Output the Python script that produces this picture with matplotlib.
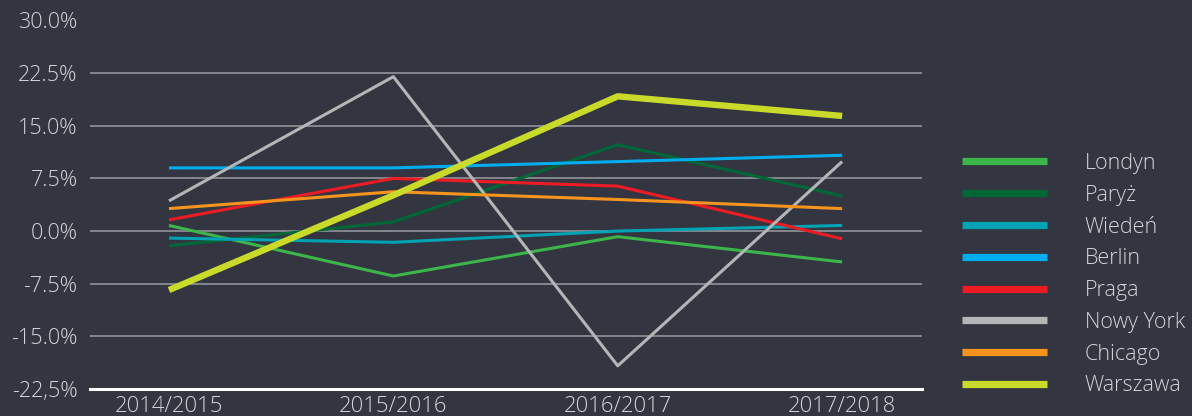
import matplotlib
matplotlib.use("Agg")
import matplotlib.pyplot as plt
import numpy as np

seasons = ["2014/2015", "2015/2016", "2016/2017", "2017/2018"]

londyn = [0.8, -6.4, -0.8, -4.4]
paryz = [-2.1, 1.3, 12.3, 5.0]
wieden = [-1.0, -1.6, 0.0, 0.8]
berlin = [9.0, 9.0, 9.9, 10.8]
praga = [1.6, 7.5, 6.4, -1.1]
nowy_york = [4.3, 22.0, -19.2, 9.9]
chicago = [3.2, 5.6, 4.5, 3.2]
warszawa = [-8.4, 5.1, 19.2, 16.4]

names = ["Londyn", "Paryż", "Wiedeń", "Berlin", "Praga", "Nowy York", "Chicago", "Warszawa"]
series = [londyn, paryz, wieden, berlin, praga, nowy_york, chicago, warszawa]
colors = ["#3cb54a", "#006837", "#00a3b4", "#00aeef", "#ed1c24", "#b3b5b7", "#f7941d", "#c9da2b"]

yticks = [-22.5, -15, -7.5, 0, 7.5, 15, 22.5, 30]
ytick_labels = ["-22,5%", "-15.0%", "-7.5%", "0.0%", "7.5%", "15.0%", "22.5%", "30.0%"]

bg = "#333640"
txt = "#d4d5d8"

plt.rcParams["font.family"] = ["Open Sans", "DejaVu Sans"]

fig = plt.figure(figsize=(11.92, 4.16), dpi=100, facecolor=bg)
ax = fig.add_axes([90 / 1192, 27 / 416, 832 / 1192, (389 - 20.5) / 416])
ax.set_facecolor(bg)

x = np.arange(len(seasons))
for name, vals, c in zip(names, series, colors):
    lw = 4.6 if name == "Warszawa" else 2.2
    ax.plot(x, vals, color=c, lw=lw, label=name, solid_capstyle="butt", zorder=3)

ax.set_ylim(-22.5, 30)
ax.set_xlim(-0.352, 3.356)
ax.set_yticks(yticks)
ax.set_yticklabels(ytick_labels)
ax.set_xticks(x)
ax.set_xticklabels(seasons)

for t in yticks[1:]:
    ax.axhline(t, color="#9a9ca2", lw=1.1, zorder=1)
ax.axhline(-22.5, color="white", lw=2.2, zorder=2, clip_on=False)

for s in ax.spines.values():
    s.set_visible(False)
ax.tick_params(length=0, colors=txt, labelsize=15.5)
ax.tick_params(axis="y", pad=9)
ax.tick_params(axis="x", pad=5, labelsize=15.8)
for lab in ax.get_xticklabels() + ax.get_yticklabels():
    lab.set_fontweight("light")

leg = ax.legend(loc="upper left", bbox_to_anchor=(962 / 1192, 1 - 153 / 416),
                bbox_transform=fig.transFigure, frameon=False, fontsize=15.5,
                handlelength=3.95, handletextpad=1.75, labelspacing=0.5,
                borderaxespad=0, borderpad=0)
for line in leg.get_lines():
    line.set_linewidth(5.2)
for t in leg.get_texts():
    t.set_color(txt)
    t.set_fontweight("light")

fig.savefig("out.png", dpi=100, facecolor=bg)
